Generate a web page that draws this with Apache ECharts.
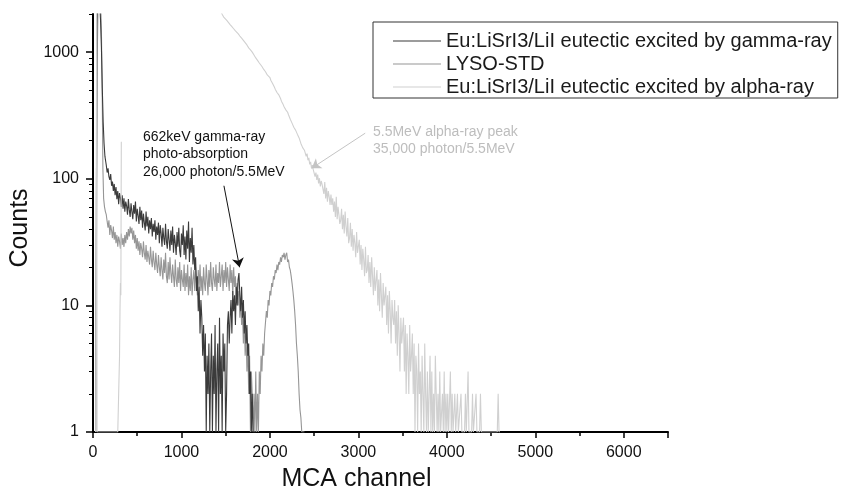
<!DOCTYPE html>
<html>
<head>
<meta charset="utf-8">
<title>MCA spectrum</title>
<script src="https://cdn.jsdelivr.net/npm/echarts@6/dist/echarts.min.js"></script>
<style>
  html, body { margin: 0; padding: 0; background: #fff; }
  #chart_spectrum { width: 845px; height: 487px; }
</style>
</head>
<body>
<div id="chart_spectrum"></div>
<script>
// MCA spectra. Zero counts are drawn at 1 (the axis floor).
// head parts: [channel, counts]; the rest: counts per 10 channels from *Start
const gammaHead = [
  [30, 1], [42, 1], [45, 1600], [55, 2800], [65, 3000], [75, 2500], [85, 1800], [95, 1100],
  [105, 520], [115, 280], [125, 190], [135, 150], [145, 135]
];
const gammaStart = 150;
const gammaCounts = [
  128, 112, 121, 104, 98, 109, 88, 95, 80, 91,
  74, 86, 69, 80, 63, 77, 71, 60, 74, 58,
  70, 55, 66, 61, 52, 69, 57, 50, 64, 55,
  48, 62, 53, 66, 46, 58, 51, 44, 60, 47,
  56, 41, 53, 45, 39, 55, 42, 50, 37, 47,
  40, 49, 35, 44, 38, 47, 33, 42, 36, 45,
  31, 43, 37, 29, 41, 34, 30, 44, 32, 28,
  40, 33, 27, 39, 30, 42, 26, 36, 31, 25,
  38, 29, 41, 27, 24, 37, 30, 43, 25, 35,
  23, 39, 28, 46, 22, 34, 26, 41, 21, 30,
  19, 24, 13, 17, 9, 14, 6, 11, 8, 4,
  7, 3, 6, 1, 4, 2, 5, 1, 3, 6,
  1, 4, 2, 7, 1, 3, 5, 1, 8, 2,
  4, 1, 6, 3, 5, 1, 2, 7, 9, 5,
  8, 11, 6, 13, 9, 12, 7, 14, 10, 16,
  18, 12, 9, 14, 8, 11, 6, 9, 5, 7,
  4, 5, 2, 3, 1, 2, 1, 1, 1, 1
];

const lysoHead = [
  [30, 1], [40, 1], [48, 900], [58, 2800], [70, 3000], [85, 2600], [95, 1500], [105, 400],
  [112, 120], [120, 70], [130, 60], [140, 55]
];
const lysoStart = 150;
const lysoCounts = [
  52, 46, 41, 47, 36, 43, 39, 34, 42, 33,
  38, 31, 36, 29, 35, 32, 28, 37, 30, 34,
  29, 36, 31, 38, 33, 40, 35, 42, 37, 41,
  33, 39, 31, 36, 28, 34, 27, 32, 25, 31,
  28, 24, 32, 26, 23, 30, 22, 27, 24, 21,
  29, 23, 20, 27, 22, 19, 26, 21, 18, 25,
  20, 17, 24, 19, 16, 23, 18, 26, 17, 15,
  22, 16, 24, 18, 15, 21, 17, 14, 23, 16,
  14, 20, 15, 22, 13, 19, 16, 14, 21, 13,
  18, 14, 21, 12, 17, 13, 20, 12, 16, 19,
  13, 20, 15, 12, 19, 14, 21, 13, 17, 12,
  20, 15, 13, 21, 16, 12, 19, 14, 22, 15,
  13, 20, 16, 14, 21, 13, 18, 15, 22, 14,
  17, 21, 13, 19, 15, 22, 14, 20, 16, 13,
  21, 15, 19, 12, 20, 14, 17, 11, 15, 10,
  13, 8, 11, 7, 9, 5, 8, 4, 6, 3,
  5, 2, 4, 1, 3, 2, 1, 2, 1, 3,
  1, 2, 1, 3, 2, 4, 3, 5, 4, 6,
  6, 9, 8, 11, 10, 13, 12, 15, 14, 17,
  16, 19, 18, 21, 19, 22, 21, 24, 22, 25,
  24, 26, 23, 25, 26, 22, 23, 20, 19, 17,
  15, 13, 11, 9, 7, 5, 4, 3, 2, 1.5,
  1.3, 1, 1, 1, 1
];

const alphaHead = [
  [30, 1], [38, 1], [42, 2600], [46, 1], [280, 1], [290, 2], [300, 4], [305, 9], [310, 15],
  [315, 12], [320, 196], [325, null]
];
const alphaStart = 1400;
const alphaCounts = [
  2550, 2420, 2300, 2210, 2130, 2060, 1990, 1940, 1880, 1850,
  1830, 1790, 1760, 1720, 1690, 1650, 1630, 1590, 1560, 1530,
  1500, 1470, 1450, 1420, 1400, 1370, 1340, 1310, 1290, 1270,
  1240, 1220, 1190, 1160, 1140, 1110, 1080, 1060, 1040, 1020,
  1000, 980, 950, 930, 900, 885, 860, 840, 820, 810,
  800, 770, 760, 730, 720, 700, 680, 660, 650, 640,
  630, 600, 590, 565, 550, 530, 510, 495, 480, 470,
  460, 445, 430, 410, 400, 385, 370, 360, 350, 340,
  335, 320, 310, 295, 290, 275, 268, 255, 250, 242,
  240, 225, 218, 210, 200, 190, 188, 176, 170, 168,
  165, 150, 158, 140, 146, 130, 136, 121, 128, 118,
  115, 104, 112, 98, 108, 92, 101, 87, 96, 90,
  88, 76, 94, 70, 85, 66, 80, 72, 62, 75,
  62, 70, 55, 66, 50, 72, 48, 60, 52, 44,
  47, 58, 40, 52, 37, 55, 42, 35, 49, 31,
  34, 45, 29, 40, 27, 36, 31, 24, 38, 26,
  26, 33, 21, 30, 19, 28, 23, 17, 29, 18,
  19, 25, 15, 22, 14, 24, 17, 12, 20, 13,
  13, 19, 10, 16, 9, 18, 12, 8, 15, 10,
  10, 14, 7, 12, 6, 13, 9, 5, 11, 8,
  7, 11, 5, 9, 4, 10, 6, 3, 8, 5,
  5, 8, 3, 7, 2, 6, 4, 2, 7, 3,
  4, 6, 2, 5, 1, 4, 3, 1, 5, 2,
  3, 1, 4, 2, 1, 5, 2, 1, 3, 1,
  2, 4, 1, 3, 1, 2, 1, 4, 2, 1,
  2, 1, 3, 1, 1, 2, 1, 3, 1, 2,
  1, 2, 1, 1, 3, 1, 2, 1, 1, 2,
  1, 1, 2, 1, 1, 1, 2, 1, 1, 1,
  1, 2, 1, 1, 3, 1, 1, 1, 1, 2,
  1, 1, 1, 2, 1, 1, 1, 1, 2, 1,
  1, 1, 1, 1, 1, 1, 1, 1, 1, 1,
  1, 1, 1, 1, 1, 1, 1, 1, 2, 1,
  1
];
const channelStep = 10;

const seriesNames = [
  "Eu:LiSrI3/LiI eutectic excited by gamma-ray",
  "LYSO-STD",
  "Eu:LiSrI3/LiI eutectic excited by alpha-ray",
];
const xLabels = [0, 1000, 2000, 3000, 4000, 5000, 6000];
const yMajor = [1, 10, 100, 1000];
const yMinor = [2, 3, 4, 5, 6, 7, 8, 9, 20, 30, 40, 50, 60, 70, 80, 90,
  200, 300, 400, 500, 600, 700, 800, 900, 2000];

// annotation arrows: [tail, head] as [channel, counts]
const gammaArrow = [[1480, 88], [1657, 20]];
const alphaArrow = [[3077, 229], [2472, 121]];

const FONT = "'Liberation Sans', Arial, sans-serif";

function buildData(head, start, counts) {
  return head.concat(counts.map((c, i) => [start + i * channelStep, c]));
}

function arrowLine(pts, color) {
  return {
    silent: true,
    symbol: ["none", "arrow"],
    symbolSize: 9,
    label: { show: false },
    lineStyle: { color: color, width: 1, type: "solid" },
    data: [[{ coord: pts[0] }, { coord: pts[1] }]],
  };
}

function getSeries(name, data, color, arrow, arrowColor) {
  return {
    name: name,
    type: "line",
    data: data,
    symbol: "none",
    sampling: "none",
    clip: true,
    lineStyle: { color: color, width: 1.1 },
    itemStyle: { color: color },
    markLine: arrow ? arrowLine(arrow, arrowColor) : undefined,
  };
}

const option = {
  animation: false,
  backgroundColor: "#fff",
  textStyle: { fontFamily: FONT },
  grid: { left: 93, right: 177, top: 14, bottom: 55, containLabel: false, outerBoundsMode: "none" },
  legend: {
    data: seriesNames,
    orient: "vertical",
    left: 373,
    top: 22,
    padding: [9, 6, 1, 20],
    itemGap: 3,
    itemWidth: 48,
    itemHeight: 1,
    icon: "rect",
    borderColor: "#333",
    borderWidth: 1,
    borderRadius: 0,
    textStyle: { color: "#1a1a1a", fontSize: 20, fontFamily: FONT, lineHeight: 20 },
  },
  xAxis: {
    type: "value",
    min: 0,
    max: 6500,
    interval: 1000,
    name: "MCA channel",
    nameLocation: "middle",
    nameGap: 35,
    nameTextStyle: { color: "#111", fontSize: 25, padding: [0, 48, 0, 0] },
    axisLine: { lineStyle: { color: "#000", width: 2 } },
    axisTick: { length: 6, lineStyle: { color: "#000", width: 1.5 } },
    minorTick: { show: true, splitNumber: 2, length: 4, lineStyle: { color: "#000", width: 1.5 } },
    axisLabel: {
      color: "#111", fontSize: 16, margin: 13, showMaxLabel: false,
      formatter: (v) => (xLabels.indexOf(v) >= 0 ? String(v) : ""),
    },
    splitLine: { show: false },
  },
  yAxis: [
    {
      type: "log",
      logBase: 10,
      min: 1,
      max: 2000,
      name: "Counts",
      nameLocation: "middle",
      nameGap: 53,
      nameTextStyle: { color: "#111", fontSize: 25, padding: [0, 10, 0, 0] },
      axisLine: { show: true, lineStyle: { color: "#000", width: 2 } },
      axisTick: { length: 7, customValues: yMajor, lineStyle: { color: "#000", width: 1.5 } },
      axisLabel: {
        color: "#111", fontSize: 16, margin: 14, customValues: yMajor,
        formatter: (v) => String(v),
      },
      splitLine: { show: false },
    },
    {
      type: "log",
      logBase: 10,
      min: 1,
      max: 2000,
      position: "left",
      axisLine: { show: false },
      axisTick: { show: true, length: 4, customValues: yMinor, lineStyle: { color: "#000", width: 1 } },
      axisLabel: { show: false },
      splitLine: { show: false },
    },
  ],
  graphic: [
    {
      type: "text",
      left: 143,
      top: 128,
      silent: true,
      style: {
        text: "662keV gamma-ray\nphoto-absorption\n26,000 photon/5.5MeV",
        font: "14px " + FONT,
        lineHeight: 17.5,
        fill: "#111",
      },
    },
    {
      type: "text",
      left: 373,
      top: 123,
      silent: true,
      style: {
        text: "5.5MeV alpha-ray peak\n35,000 photon/5.5MeV",
        font: "14px " + FONT,
        lineHeight: 17.6,
        fill: "#bdbdbd",
      },
    },
  ],
  series: [
    getSeries(seriesNames[1], buildData(lysoHead, lysoStart, lysoCounts), "#969696"),
    getSeries(seriesNames[0], buildData(gammaHead, gammaStart, gammaCounts), "#3b3b3b", gammaArrow, "#111"),
    getSeries(seriesNames[2], buildData(alphaHead, alphaStart, alphaCounts), "#d0d0d0", alphaArrow, "#c4c4c4"),
  ],
};

const myChart = echarts.init(document.getElementById("chart_spectrum"));
myChart.setOption(option);
window.addEventListener("resize", () => {
  myChart.resize();
});
</script>
</body>
</html>
